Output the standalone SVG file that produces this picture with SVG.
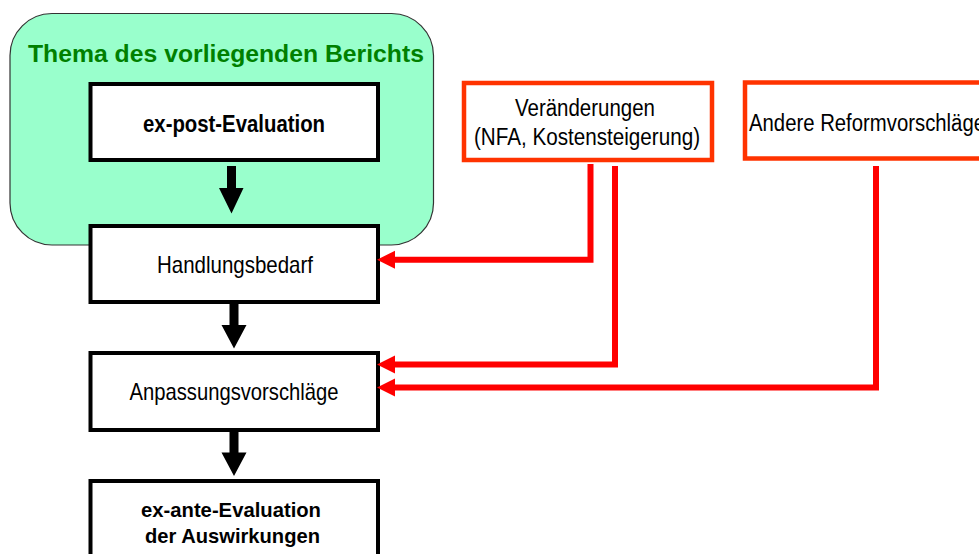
<svg xmlns="http://www.w3.org/2000/svg" width="979" height="554" viewBox="0 0 979 554">
<style>
.t{font-family:"Liberation Sans",Arial,sans-serif;fill:#000}
.b{font-weight:bold}
.box{fill:#fff;stroke:#000;stroke-width:4}
.rbox{fill:#fff;stroke:#ff3300;stroke-width:4.5}
.red{fill:none;stroke:#ff0000;stroke-width:6;stroke-linejoin:miter}
.blk{fill:#000}
</style>
<defs>
<marker id="ah" markerUnits="userSpaceOnUse" markerWidth="20" markerHeight="20" refX="5" refY="9" orient="auto">
<path d="M0,0 L18,9 L0,18 z" fill="#ff0000"/>
</marker>
</defs>
<rect width="979" height="554" fill="#fff"/>
<g id="thema">
<rect x="10" y="13.5" width="423.5" height="231.5" rx="42" ry="42" fill="#99ffcc" stroke="#333" stroke-width="1.2"/>
<text class="t b" x="28" y="61.5" font-size="23" fill="#008000" style="fill:#008000" textLength="396" lengthAdjust="spacingAndGlyphs">Thema des vorliegenden Berichts</text>
</g>
<g id="expost">
<rect class="box" x="90.5" y="84" width="287.5" height="76"/>
<text class="t b" x="143" y="131.5" font-size="23" textLength="182" lengthAdjust="spacingAndGlyphs">ex-post-Evaluation</text>
</g>
<g id="handlungsbedarf">
<rect class="box" x="90.5" y="226" width="287.5" height="76"/>
<text class="t" x="157" y="273" font-size="24" textLength="156" lengthAdjust="spacingAndGlyphs">Handlungsbedarf</text>
</g>
<g id="anpassung">
<rect class="box" x="90.5" y="353" width="287.5" height="77"/>
<text class="t" x="129.5" y="400" font-size="24" textLength="209" lengthAdjust="spacingAndGlyphs">Anpassungsvorschläge</text>
</g>
<g id="exante">
<rect class="box" x="90.5" y="481" width="287.5" height="90"/>
<text class="t b" x="141" y="517.3" font-size="20.5" textLength="180" lengthAdjust="spacingAndGlyphs">ex-ante-Evaluation</text>
<text class="t b" x="145" y="543.3" font-size="20.5" textLength="175" lengthAdjust="spacingAndGlyphs">der Auswirkungen</text>
</g>
<g id="veraenderungen">
<rect class="rbox" x="464" y="83" width="248" height="77"/>
<text class="t" x="515" y="115.7" font-size="23" textLength="140" lengthAdjust="spacingAndGlyphs">Veränderungen</text>
<text class="t" x="474" y="145" font-size="23" textLength="226" lengthAdjust="spacingAndGlyphs">(NFA, Kostensteigerung)</text>
</g>
<g id="andere">
<rect class="rbox" x="745" y="82.5" width="300" height="76"/>
<text class="t" x="749" y="131" font-size="23" textLength="236" lengthAdjust="spacingAndGlyphs">Andere Reformvorschläge</text>
</g>
<g id="connectors">
<polygon class="blk" points="227,166 236,166 236,188 243.5,188 231.5,213.5 219,188 227,188"/>
<polygon class="blk" points="229.5,303 238.5,303 238.5,325 246.5,325 234,348.5 221.5,325 229.5,325"/>
<polygon class="blk" points="229.5,432 238.5,432 238.5,452.5 246.5,452.5 234,476 221.5,452.5 229.5,452.5"/>
<path class="red" d="M590.5,164 V259.7 H390" marker-end="url(#ah)"/>
<path class="red" d="M615,166 V364.5 H390" marker-end="url(#ah)"/>
<path class="red" d="M876,166 V387.5 H390" marker-end="url(#ah)"/>
</g>
</svg>
